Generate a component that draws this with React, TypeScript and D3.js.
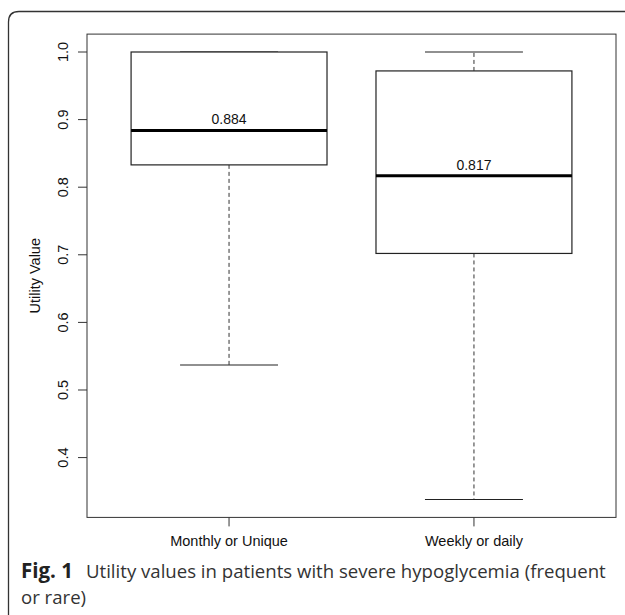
import React from "react";
import * as d3 from "d3";

const categories = ["Monthly or Unique", "Weekly or daily"];
const lowerWhisker = [0.537, 0.338];
const q1 = [0.833, 0.702];
const median = [0.884, 0.817];
const q3 = [1.0, 0.972];
const upperWhisker = [1.0, 1.0];
const medianLabels = ["0.884", "0.817"];
const yTicks = [0.4, 0.5, 0.6, 0.7, 0.8, 0.9, 1.0];

const W = 625;
const H = 615;
const plot = { left: 87, right: 616, top: 34.1, bottom: 517.4 };

export default function App() {
  const lo = d3.min(lowerWhisker) as number;
  const hi = d3.max(upperWhisker) as number;
  const pad = (hi - lo) * 0.04;
  const y = d3.scaleLinear().domain([lo - pad, hi + pad]).range([plot.bottom, plot.top]);
  const n = categories.length;
  const xpad = n * 0.04;
  const x = d3.scaleLinear().domain([0.5 - xpad, n + 0.5 + xpad]).range([plot.left, plot.right]);
  const halfBox = x(1.4) - x(1);
  const halfStaple = halfBox / 2;
  const stroke = "#222";
  const font = "'Liberation Sans', Arial, sans-serif";
  const axisFs = 14.5;

  return (
    <svg width={W} height={H} style={{ position: "absolute", left: 0, top: 0, background: "#fff" }}>
      <rect x={0} y={0} width={W} height={H} fill="#fff" />
      {/* outer frame */}
      <path d={`M 8.5 ${H} L 8.5 22 Q 8.5 11.5 19 11.5 L ${W} 11.5`} fill="none" stroke="#333" strokeWidth={1.3} />
      {/* plot box */}
      <rect x={plot.left} y={plot.top} width={plot.right - plot.left} height={plot.bottom - plot.top} fill="none" stroke="#333" strokeWidth={1} />
      {/* y axis ticks */}
      {yTicks.map((t) => (
        <g key={t}>
          <line x1={plot.left - 9} x2={plot.left} y1={y(t)} y2={y(t)} stroke="#333" strokeWidth={1} />
          <text
            transform={`translate(${plot.left - 19},${y(t)}) rotate(-90)`}
            textAnchor="middle"
            fontFamily={font}
            fontSize={axisFs}
            fill="#111"
          >
            {t.toFixed(1)}
          </text>
        </g>
      ))}
      <text
        transform={`translate(40,${(plot.top + plot.bottom) / 2}) rotate(-90)`}
        textAnchor="middle"
        fontFamily={font}
        fontSize={axisFs}
        fill="#111"
      >
        Utility Value
      </text>
      {/* x axis ticks and labels */}
      {categories.map((c, i) => (
        <g key={c}>
          <line x1={x(i + 1)} x2={x(i + 1)} y1={plot.bottom} y2={plot.bottom + 9} stroke="#333" strokeWidth={1} />
          <text x={x(i + 1)} y={plot.bottom + 29} textAnchor="middle" fontFamily={font} fontSize={axisFs} fill="#111">
            {c}
          </text>
        </g>
      ))}
      {/* boxes */}
      {categories.map((c, i) => {
        const cx = x(i + 1);
        return (
          <g key={"b" + c}>
            {upperWhisker[i] > q3[i] && (
              <line x1={cx} x2={cx} y1={y(q3[i])} y2={y(upperWhisker[i])} stroke="#333" strokeDasharray="4,3" strokeWidth={1} />
            )}
            <line x1={cx} x2={cx} y1={y(q1[i])} y2={y(lowerWhisker[i])} stroke="#333" strokeDasharray="4,3" strokeWidth={1} />
            <line x1={cx - halfStaple} x2={cx + halfStaple} y1={y(upperWhisker[i])} y2={y(upperWhisker[i])} stroke={stroke} strokeWidth={1.2} />
            <line x1={cx - halfStaple} x2={cx + halfStaple} y1={y(lowerWhisker[i])} y2={y(lowerWhisker[i])} stroke={stroke} strokeWidth={1.2} />
            <rect x={cx - halfBox} y={y(q3[i])} width={2 * halfBox} height={y(q1[i]) - y(q3[i])} fill="#fff" stroke={stroke} strokeWidth={1.2} />
            <line x1={cx - halfBox} x2={cx + halfBox} y1={y(median[i])} y2={y(median[i])} stroke="#000" strokeWidth={3} />
            <text x={cx} y={y(median[i]) - 6} textAnchor="middle" fontFamily={font} fontSize={14} fill="#111">
              {medianLabels[i]}
            </text>
          </g>
        );
      })}
      {/* caption */}
      <text x={21} y={578} fontFamily="'Open Sans', sans-serif" fontSize={18.6} fill="#333">
        <tspan fontWeight="bold" fill="#222" fontSize={20.5}>Fig. 1</tspan>
        <tspan dx={13}>Utility values in patients with severe hypoglycemia (frequent</tspan>
      </text>
      <text x={21} y={604} fontFamily="'Open Sans', sans-serif" fontSize={18.6} fill="#333">
        or rare)
      </text>
    </svg>
  );
}
